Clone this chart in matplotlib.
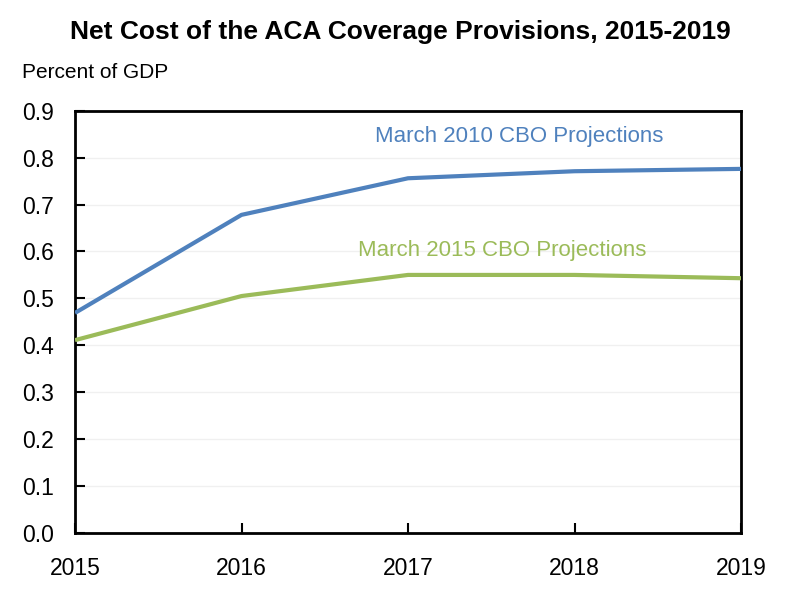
import matplotlib
matplotlib.use("Agg")
import matplotlib.pyplot as plt
from matplotlib import font_manager

names = {f.name for f in font_manager.fontManager.ttflist}
narrow = "Liberation Sans Narrow" if "Liberation Sans Narrow" in names else "Liberation Sans"
plt.rcParams['font.family'] = [narrow, 'DejaVu Sans']

years = [2015, 2016, 2017, 2018, 2019]
cbo_2010 = [0.469, 0.678, 0.756, 0.771, 0.776]
cbo_2015 = [0.411, 0.505, 0.550, 0.550, 0.543]
yticks = [0.0, 0.1, 0.2, 0.3, 0.4, 0.5, 0.6, 0.7, 0.8, 0.9]

blue = "#4F81BD"
green = "#9BBB59"

fig = plt.figure(figsize=(8.01, 6.0), dpi=100)
ax = fig.add_axes([75/801, 1-533/600, (741-75)/801, (533-110.7)/600])

ax.plot(years, cbo_2010, color=blue, lw=3, solid_capstyle='butt', zorder=3)
ax.plot(years, cbo_2015, color=green, lw=3, solid_capstyle='butt', zorder=3)

ax.set_xlim(2015, 2019)
ax.set_ylim(0, 0.9)
ax.set_yticks(yticks)
ax.set_yticklabels([f"{v:.1f}" for v in yticks])
ax.set_xticks(years)
ax.set_xticklabels([str(y) for y in years])
ax.grid(axis='y', color='#f0f0f0', lw=1)
ax.set_axisbelow(True)
ax.tick_params(direction='in', length=7, width=1.5, labelsize=16.5, colors='black')
ax.tick_params(axis='x', pad=17)
ax.tick_params(axis='y', pad=15)
for s in ax.spines.values():
    s.set_linewidth(2)
    s.set_color('black')

ax.text(2016.8, 0.844, "March 2010 CBO Projections", color=blue, fontsize=16, va='center', ha='left')
ax.text(2016.7, 0.601, "March 2015 CBO Projections", color=green, fontsize=16, va='center', ha='left')

fig.text(400/801, 1-32/600, "Net Cost of the ACA Coverage Provisions, 2015-2019",
         ha='center', va='center', fontsize=19, fontweight='bold')
fig.text(22/801, 1-73/600, "Percent of GDP", ha='left', va='center', fontsize=15)

fig.savefig("out.png", dpi=100)
